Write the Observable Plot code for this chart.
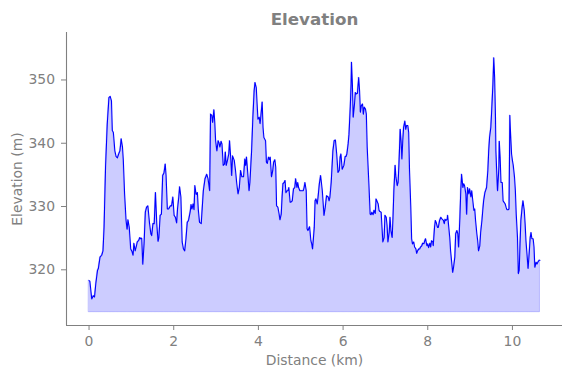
<!DOCTYPE html>
<html>
<head>
<meta charset="utf-8">
<script src="https://cdn.jsdelivr.net/npm/d3@7"></script>
<script src="https://cdn.jsdelivr.net/npm/@observablehq/plot@0.6"></script>
<style>
  html, body { margin: 0; padding: 0; background: white; }
  #chart svg { display: block; }
</style>
</head>
<body>
<div id="chart"></div>
<script>
const distance = [
  0, 0.02, 0.064, 0.10, 0.13, 0.16, 0.20, 0.22, 0.26, 0.30, 0.33, 0.355, 0.39, 0.43, 0.47, 0.50, 0.53, 0.55, 0.575, 0.61,
  0.64, 0.67, 0.70, 0.73, 0.76, 0.79, 0.81, 0.84, 0.875, 0.90, 0.92, 0.95, 0.985, 1.015, 1.04, 1.06, 1.09, 1.12, 1.14, 1.17,
  1.20, 1.22, 1.245, 1.27, 1.30, 1.33, 1.36, 1.39, 1.43, 1.46, 1.48, 1.51, 1.54, 1.57, 1.60, 1.63, 1.65, 1.68, 1.71, 1.74,
  1.77, 1.80, 1.82, 1.85, 1.88, 1.92, 1.95, 1.98, 2.01, 2.04, 2.07, 2.09, 2.12, 2.14, 2.17, 2.20, 2.23, 2.26, 2.29, 2.32,
  2.35, 2.39, 2.41, 2.43, 2.46, 2.48, 2.50, 2.53, 2.56, 2.58, 2.61, 2.65, 2.70, 2.74, 2.78, 2.81, 2.85, 2.87, 2.90, 2.92,
  2.95, 2.97, 2.99, 3.02, 3.05, 3.07, 3.09, 3.12, 3.14, 3.17, 3.20, 3.22, 3.24, 3.27, 3.30, 3.32, 3.35, 3.37, 3.39, 3.43,
  3.46, 3.49, 3.52, 3.55, 3.58, 3.61, 3.65, 3.68, 3.70, 3.72, 3.75, 3.78, 3.80, 3.84, 3.87, 3.90, 3.92, 3.95, 3.97, 3.99,
  4.02, 4.04, 4.06, 4.09, 4.11, 4.13, 4.17, 4.19, 4.21, 4.24, 4.26, 4.28, 4.31, 4.34, 4.36, 4.39, 4.41, 4.43, 4.46, 4.49,
  4.51, 4.54, 4.56, 4.58, 4.61, 4.63, 4.65, 4.68, 4.70, 4.72, 4.75, 4.77, 4.80, 4.83, 4.86, 4.88, 4.91, 4.93, 4.95, 4.98,
  5.00, 5.02, 5.06, 5.08, 5.10, 5.13, 5.15, 5.17, 5.21, 5.24, 5.26, 5.28, 5.32, 5.34, 5.36, 5.39, 5.41, 5.44, 5.47, 5.51,
  5.55, 5.58, 5.61, 5.65, 5.67, 5.69, 5.72, 5.76, 5.79, 5.82, 5.85, 5.88, 5.91, 5.93, 5.95, 5.98, 6.00, 6.02, 6.05, 6.07,
  6.09, 6.12, 6.14, 6.17, 6.19, 6.20, 6.22, 6.24, 6.27, 6.29, 6.31, 6.34, 6.35, 6.37, 6.39, 6.41, 6.43, 6.46, 6.48, 6.50,
  6.53, 6.55, 6.57, 6.61, 6.64, 6.66, 6.68, 6.71, 6.73, 6.76, 6.78, 6.80, 6.83, 6.85, 6.87, 6.90, 6.92, 6.94, 6.97, 6.99,
  7.02, 7.04, 7.06, 7.09, 7.11, 7.13, 7.16, 7.18, 7.20, 7.23, 7.25, 7.28, 7.30, 7.32, 7.35, 7.37, 7.39, 7.41, 7.43, 7.46,
  7.48, 7.50, 7.53, 7.55, 7.57, 7.60, 7.62, 7.64, 7.67, 7.69, 7.72, 7.74, 7.76, 7.79, 7.81, 7.83, 7.86, 7.88, 7.91, 7.93,
  7.95, 7.98, 8.00, 8.02, 8.05, 8.07, 8.09, 8.12, 8.13, 8.16, 8.18, 8.20, 8.23, 8.25, 8.28, 8.31, 8.34, 8.37, 8.39, 8.41,
  8.43, 8.46, 8.47, 8.50, 8.52, 8.54, 8.57, 8.59, 8.61, 8.64, 8.66, 8.69, 8.71, 8.73, 8.76, 8.78, 8.80, 8.83, 8.85, 8.87,
  8.90, 8.92, 8.94, 8.97, 8.99, 9.02, 9.04, 9.06, 9.09, 9.11, 9.13, 9.16, 9.18, 9.20, 9.23, 9.25, 9.28, 9.30, 9.32, 9.35,
  9.37, 9.39, 9.42, 9.44, 9.46, 9.49, 9.51, 9.54, 9.56, 9.58, 9.60, 9.61, 9.64, 9.65, 9.68, 9.69, 9.71, 9.73, 9.76, 9.78,
  9.80, 9.83, 9.85, 9.87, 9.90, 9.92, 9.94, 9.95, 9.98, 10.00, 10.02, 10.05, 10.07, 10.09, 10.12, 10.14, 10.16, 10.18, 10.20, 10.23,
  10.25, 10.28, 10.30, 10.32, 10.35, 10.37, 10.39, 10.42, 10.44, 10.46, 10.49, 10.51, 10.53, 10.56, 10.58, 10.60, 10.63, 10.65
];
const elevation = [
  318.3, 318.2, 315.4, 315.9, 315.7, 317.8, 319.9, 320.2, 322.0, 322.3, 323.0, 326.7, 336.2, 343.0, 347.2, 347.4, 346.7, 342.0, 341.7, 338.8,
  337.9, 337.7, 338.3, 338.8, 340.7, 339.4, 337.3, 332.0, 327.8, 326.4, 327.9, 326.7, 323.3, 322.9, 322.3, 324.2, 323.0, 323.8, 324.4, 324.6,
  325.1, 324.9, 325.0, 320.9, 324.1, 329.1, 329.9, 330.1, 327.3, 325.7, 325.4, 327.3, 327.3, 332.2, 327.3, 324.5, 325.1, 328.6, 328.8, 334.9,
  335.3, 336.7, 334.9, 329.6, 329.6, 330.1, 330.1, 331.5, 328.6, 328.3, 327.4, 329.6, 331.5, 333.1, 331.5, 324.4, 323.3, 323.0, 324.9, 327.5,
  327.8, 329.2, 330.3, 329.6, 330.4, 329.5, 333.3, 331.9, 332.2, 329.6, 327.5, 327.3, 332.5, 334.4, 335.1, 334.4, 332.5, 344.6, 344.4, 343.3,
  345.3, 343.3, 340.4, 338.8, 340.4, 340.1, 339.4, 340.3, 339.9, 336.5, 336.7, 338.6, 336.5, 337.3, 338.3, 340.4, 337.3, 334.9, 338.0, 337.3,
  335.7, 333.6, 332.0, 333.0, 335.7, 334.7, 334.7, 337.5, 336.5, 337.8, 335.2, 332.5, 333.8, 338.8, 344.1, 348.3, 349.6, 348.8, 346.2, 343.8,
  344.1, 343.1, 344.4, 346.5, 342.5, 340.9, 340.4, 337.0, 336.8, 337.8, 337.4, 337.8, 334.7, 335.7, 337.0, 337.4, 336.2, 330.1, 329.9, 328.8,
  327.9, 328.8, 331.5, 333.6, 333.8, 334.1, 332.2, 332.5, 332.5, 333.0, 330.7, 330.7, 330.9, 332.8, 333.0, 334.4, 333.0, 333.8, 333.0, 332.5,
  332.5, 332.5, 332.5, 333.0, 333.8, 332.5, 326.5, 326.2, 326.8, 324.6, 324.1, 323.3, 326.7, 330.9, 331.2, 330.4, 331.5, 333.6, 334.9, 332.5,
  328.6, 329.9, 331.7, 331.5, 330.9, 331.5, 333.8, 338.8, 340.4, 340.5, 338.3, 335.4, 335.7, 337.8, 338.3, 335.9, 336.2, 336.5, 337.9, 337.9,
  338.3, 339.9, 341.4, 345.7, 349.4, 352.8, 349.4, 344.1, 346.2, 348.0, 347.8, 347.9, 348.8, 350.4, 348.3, 344.9, 345.9, 346.2, 344.6, 345.7,
  345.4, 344.6, 339.4, 333.6, 328.8, 328.7, 329.1, 328.7, 329.4, 328.9, 331.2, 330.9, 330.4, 329.4, 329.2, 329.1, 326.7, 324.4, 325.1, 328.6,
  328.3, 327.0, 324.4, 325.9, 328.3, 326.2, 325.1, 328.3, 332.5, 336.5, 334.6, 333.3, 333.8, 336.7, 342.2, 340.4, 337.5, 340.4, 342.5, 343.5,
  342.2, 342.8, 342.8, 341.7, 335.7, 329.9, 324.9, 324.1, 324.4, 323.6, 323.3, 322.6, 323.0, 323.3, 323.3, 323.6, 323.8, 324.2, 324.1, 324.6,
  324.9, 323.8, 324.1, 323.5, 324.2, 323.6, 324.6, 324.4, 323.8, 326.7, 327.8, 327.5, 326.7, 326.7, 327.8, 328.3, 328.0, 327.8, 327.3, 328.0,
  327.8, 328.0, 328.6, 326.5, 325.1, 323.0, 320.9, 319.6, 320.4, 322.0, 325.7, 326.2, 325.7, 323.6, 328.3, 332.5, 335.1, 333.0, 333.6, 333.3,
  332.0, 328.8, 333.0, 332.0, 332.8, 331.5, 332.5, 331.2, 329.4, 329.6, 327.8, 325.7, 324.6, 323.0, 323.8, 325.9, 327.8, 329.4, 330.9, 332.2,
  332.6, 333.0, 335.7, 338.8, 340.9, 342.5, 345.1, 349.4, 353.5, 350.4, 344.1, 338.8, 333.6, 332.5, 336.2, 340.3, 337.8, 333.8, 333.8, 330.9,
  330.7, 330.4, 329.9, 329.5, 329.5, 329.6, 344.4, 342.5, 338.3, 337.3, 336.5, 334.6, 332.5, 328.8, 325.1, 319.4, 319.9, 324.1, 327.8, 329.9,
  330.9, 329.4, 327.3, 324.6, 322.0, 320.2, 322.0, 325.1, 325.9, 324.9, 324.9, 323.6, 320.4, 321.2, 320.9, 321.2, 321.5, 321.5
];
const fillBase = 313.3;
const xTicks = [0, 2, 4, 6, 8, 10];
const yTicks = [320, 330, 340, 350];
const xDomain = [-0.5325, 11.1825];
const yDomain = [311.2, 357.5];
const titleText = "Elevation";
const xLabel = "Distance (km)";
const yLabel = "Elevation (m)";

const data = distance.map((d, i) => ({distance: d, elevation: elevation[i]}));
const gray = "#808080";

const chart = Plot.plot({
  width: 571,
  height: 378,
  marginLeft: 66,
  marginRight: 9,
  marginTop: 32,
  marginBottom: 53,
  style: {fontFamily: "'DejaVu Sans', sans-serif", fontSize: "13.9px", background: "white", overflow: "visible"},
  x: {domain: xDomain},
  y: {domain: yDomain},
  marks: [
    Plot.areaY(data, {x: "distance", y1: fillBase, y2: "elevation", fill: "blue", fillOpacity: 0.2, stroke: "blue", strokeOpacity: 0.2, strokeWidth: 1}),
    Plot.line(data, {x: "distance", y: "elevation", stroke: "blue", strokeWidth: 1.1}),
    Plot.ruleX([xDomain[0]], {stroke: gray, strokeWidth: 1.1}),
    Plot.ruleY([yDomain[0]], {stroke: gray, strokeWidth: 1.1}),
    Plot.axisX(xTicks, {tickSize: 5, tickPadding: 6, stroke: gray, fill: gray, label: null, fontSize: 13.9}),
    Plot.axisY(yTicks, {tickSize: 5, tickPadding: 6.5, stroke: gray, fill: gray, label: null, fontSize: 13.9}),
    Plot.text([titleText], {frameAnchor: "top", lineAnchor: "middle", textAnchor: "middle", dy: -13, fontWeight: "bold", fontSize: 16.7, fill: gray}),
    Plot.text([xLabel], {frameAnchor: "bottom", lineAnchor: "middle", textAnchor: "middle", dy: 35.5, fontSize: 13.9, fill: gray}),
    Plot.text([yLabel], {frameAnchor: "left", lineAnchor: "middle", textAnchor: "middle", dx: -49, rotate: -90, fontSize: 13.9, fill: gray})
  ]
});
document.getElementById("chart").appendChild(chart);
</script>
</body>
</html>
